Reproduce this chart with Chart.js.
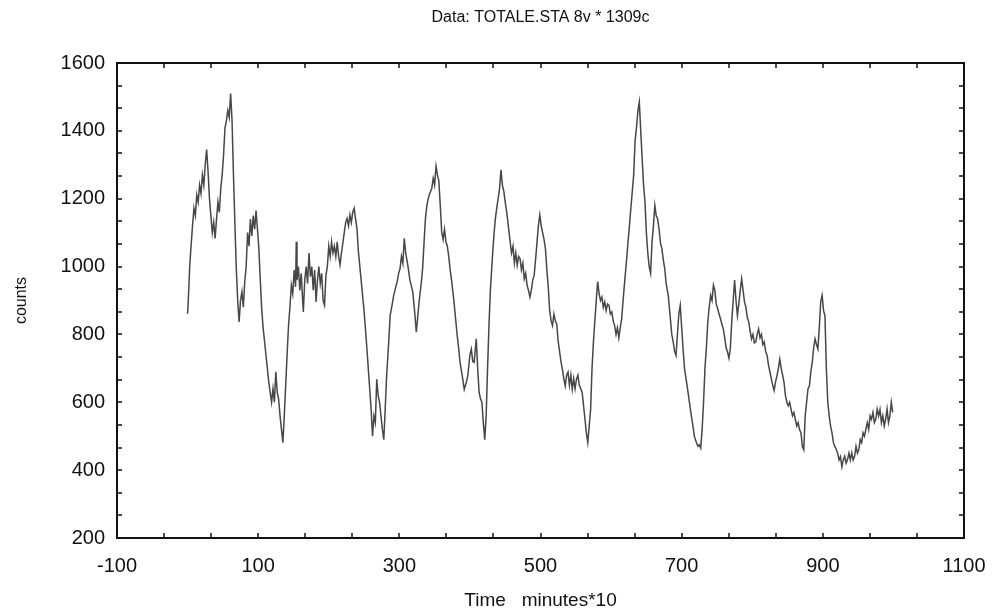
<!DOCTYPE html>
<html>
<head>
<meta charset="utf-8">
<script src="https://cdn.jsdelivr.net/npm/chart.js@4"></script>
<style>
  html, body { margin: 0; padding: 0; background: #fff; }
  #wrap { width: 996px; height: 616px; }
</style>
</head>
<body>
<div id="wrap"><canvas id="countsChart" width="996" height="616"></canvas></div>
<script>
// Time (minutes*10) and counts
const times = [
  0, 1, 3, 5, 7, 9, 11, 13, 15, 17, 19, 21, 23, 25, 27, 29, 31, 33, 35, 37, 39, 41, 43, 45, 47, 49,
  51, 53, 55, 57, 59, 61, 63, 65, 67, 69, 71, 73, 75, 77, 79, 81, 83, 85, 87, 89, 91, 93, 95, 97, 99,
  101, 103, 105, 107, 109, 111, 113, 115, 117, 119, 121, 123, 125, 127, 129, 131, 133, 135, 137, 139,
  141, 143, 145, 147, 149, 151, 153, 154, 155, 157, 159, 161, 163, 164, 166, 168, 170, 172, 174, 176,
  178, 180, 182, 184, 186, 188, 190, 192, 194, 196, 198, 200, 202, 204, 206, 208, 210, 212, 214, 216,
  218, 220, 222, 224, 226, 228, 230, 232, 234, 236, 238, 240, 242, 245, 247, 250, 252, 254, 256, 258,
  260, 262, 264, 266, 268, 270, 272, 274, 276, 278, 280, 282, 285, 287, 290, 292, 295, 297, 299, 301,
  303, 305, 307, 309, 312, 315, 319, 322, 324, 326, 328, 331, 333, 335, 337, 339, 341, 343, 346, 348,
  350, 352, 354, 356, 358, 360, 362, 364, 366, 368, 370, 372, 374, 377, 380, 382, 384, 386, 389, 392,
  395, 397, 400, 402, 404, 406, 409, 411, 413, 415, 417, 419, 421, 423, 425, 427, 429, 431, 434, 436,
  438, 440, 442, 444, 446, 448, 450, 452, 455, 457, 459, 461, 463, 465, 467, 469, 471, 473, 475, 477,
  479, 481, 483, 485, 487, 489, 491, 493, 495, 497, 499, 501, 503, 505, 507, 509, 511, 513, 515, 517,
  519, 521, 523, 525, 527, 529, 531, 533, 535, 537, 539, 541, 543, 545, 547, 549, 551, 553, 555, 557,
  559, 561, 563, 565, 567, 569, 571, 573, 575, 577, 579, 581, 583, 585, 587, 589, 591, 593, 595, 597,
  599, 601, 603, 605, 607, 609, 611, 613, 615, 617, 620, 622, 624, 626, 628, 630, 632, 634, 636, 638,
  640, 642, 644, 646, 648, 650, 652, 654, 656, 658, 660, 662, 664, 666, 668, 670, 672, 674, 676, 678,
  681, 684, 686, 688, 690, 692, 694, 696, 698, 700, 702, 704, 707, 709, 711, 713, 716, 718, 721, 723,
  725, 727, 729, 731, 733, 735, 737, 739, 741, 743, 745, 747, 749, 751, 753, 755, 757, 759, 761, 763,
  765, 767, 769, 771, 773, 775, 777, 779, 781, 783, 785, 787, 789, 791, 793, 795, 797, 799, 801, 803,
  805, 807, 809, 811, 813, 815, 817, 819, 821, 823, 825, 827, 829, 831, 833, 835, 837, 839, 841, 843,
  845, 847, 849, 851, 853, 855, 857, 859, 861, 863, 865, 867, 869, 871, 873, 875, 877, 879, 881, 883,
  885, 887, 889, 891, 893, 895, 897, 899, 901, 903, 905, 907, 909, 911, 913, 915, 917, 919, 921, 923,
  925, 927, 929, 931, 933, 935, 937, 939, 941, 943, 945, 947, 949, 951, 953, 955, 957, 959, 961, 963,
  965, 967, 969, 971, 973, 975, 977, 979, 981, 983, 985, 987, 989, 991, 993, 995, 997, 999
];
const counts = [
  861, 900, 1000, 1063, 1120, 1172, 1150, 1211, 1190, 1240, 1215, 1270, 1240, 1300, 1345, 1280, 1200, 1150, 1100, 1130, 1083, 1140, 1190, 1160, 1230, 1270,
  1330, 1409, 1430, 1460, 1440, 1510, 1430, 1270, 1130, 994, 900, 837, 900, 926, 880, 956, 1000, 1100, 1060, 1140, 1090, 1150, 1110, 1165, 1110,
  1053, 960, 876, 820, 780, 740, 700, 660, 630, 600, 640, 600, 690, 630, 609, 560, 520, 481, 560, 650,
  740, 826, 880, 945, 920, 990, 940, 1073, 960, 1000, 930, 980, 900, 866, 960, 1000, 950, 1040, 970, 1000,
  930, 990, 896, 960, 1000, 950, 980, 900, 886, 974, 1000, 1060, 1030, 1073, 1040, 1060, 1030, 1073, 1030, 1005,
  1040, 1070, 1100, 1130, 1142, 1120, 1152, 1130, 1160, 1172, 1140, 1112, 1044, 980, 935, 870, 816, 760, 700, 640,
  580, 500, 560, 540, 668, 620, 600, 560, 520, 490, 580, 678, 780, 856, 890, 915, 940, 956, 980, 994,
  1030, 1010, 1083, 1040, 1004, 960, 926, 860, 807, 850, 896, 950, 994, 1070, 1142, 1180, 1201, 1215, 1231, 1260,
  1240, 1296, 1270, 1252, 1180, 1103, 1080, 1110, 1073, 1060, 1030, 990, 960, 905, 840, 796, 760, 718, 680, 638,
  660, 678, 740, 757, 720, 718, 787, 700, 629, 610, 600, 540, 490, 560, 700, 826, 930, 1000, 1093, 1140,
  1172, 1200, 1230, 1285, 1240, 1222, 1190, 1163, 1110, 1073, 1040, 1060, 1010, 1040, 1004, 1030, 1024, 990, 1010, 964,
  980, 945, 930, 910, 930, 960, 974, 1020, 1070, 1120, 1152, 1120, 1100, 1080, 1053, 990, 940, 870, 840, 826,
  860, 840, 830, 780, 750, 720, 698, 670, 648, 680, 689, 650, 680, 638, 670, 640, 668, 680, 650, 640,
  629, 590, 550, 510, 481, 530, 579, 700, 778, 840, 900, 956, 920, 900, 910, 880, 896, 870, 890, 886,
  860, 866, 840, 826, 800, 820, 790, 820, 846, 900, 974, 1020, 1073, 1120, 1172, 1220, 1270, 1370, 1410, 1459,
  1485, 1400, 1320, 1240, 1192, 1100, 1040, 1000, 980, 1073, 1120, 1180, 1150, 1140, 1110, 1070, 1053, 1020, 994, 950,
  915, 846, 800, 778, 750, 738, 800, 860, 886, 820, 757, 700, 659, 630, 600, 570, 530, 500, 481, 470,
  475, 465, 520, 600, 700, 760, 837, 880, 915, 900, 945, 930, 890, 876, 860, 846, 830, 816, 790, 760,
  748, 730, 760, 840, 900, 960, 900, 856, 890, 930, 964, 930, 896, 880, 850, 837, 810, 787, 800, 775,
  778, 800, 816, 790, 800, 770, 778, 750, 738, 710, 690, 670, 650, 635, 660, 678, 700, 727, 700, 680,
  659, 620, 600, 590, 600, 579, 560, 570, 550, 530, 540, 520, 510, 470, 460, 560, 600, 640, 648, 690,
  718, 760, 787, 770, 757, 820, 896, 915, 870, 856, 700, 600, 560, 530, 510, 481, 470, 461, 450, 430,
  440, 410, 430, 441, 420, 431, 450, 430, 451, 430, 441, 470, 450, 461, 490, 481, 510, 500, 520, 540,
  520, 560, 550, 570, 540, 550, 580, 560, 579, 540, 560, 530, 550, 580, 540, 560, 600, 570
];

const chartTitle = 'Data: TOTALE.STA 8v * 1309c';
const xMin = -100, xMax = 1100, xStep = 200;
const yMin = 200, yMax = 1600, yStep = 200;
const minorPerMajor = 3;

const points = times.map((t, i) => ({ x: t, y: counts[i] }));

const fontFamily = "'Liberation Sans', Arial, sans-serif";

// box around the plot with inward ticks on all four sides, title centred over the plot
const frameTicks = {
    id: 'frameTicks',
    afterDraw(chart) {
        const { ctx, chartArea: a, scales: { x, y } } = chart;
        ctx.save();
        ctx.strokeStyle = '#111';
        ctx.lineWidth = 2;
        ctx.strokeRect(a.left, a.top, a.right - a.left, a.bottom - a.top);
        ctx.lineWidth = 1.5;
        ctx.beginPath();
        const xs = xStep / minorPerMajor;
        for (let v = xMin; v <= xMax + 0.01; v += xs) {
            const px = Math.round(x.getPixelForValue(v));
            ctx.moveTo(px, a.bottom); ctx.lineTo(px, a.bottom - 5);
            ctx.moveTo(px, a.top); ctx.lineTo(px, a.top + 5);
        }
        const ys = yStep / minorPerMajor;
        for (let v = yMin; v <= yMax + 0.01; v += ys) {
            const py = Math.round(y.getPixelForValue(v));
            ctx.moveTo(a.left, py); ctx.lineTo(a.left + 5, py);
            ctx.moveTo(a.right, py); ctx.lineTo(a.right - 5, py);
        }
        ctx.stroke();

        ctx.fillStyle = '#111';
        ctx.font = '16px ' + fontFamily;
        ctx.textAlign = 'center';
        ctx.textBaseline = 'middle';
        ctx.fillText(chartTitle, (a.left + a.right) / 2, 18);
        ctx.restore();
    }
};

const chart = new Chart(document.getElementById('countsChart'), {
    type: 'line',
    data: {
        datasets: [{
            data: points,
            borderColor: '#474747',
            borderWidth: 1.5,
            pointRadius: 0,
            tension: 0,
            fill: false
        }]
    },
    options: {
        responsive: false,
        animation: false,
        layout: { padding: { top: 63, right: 32, bottom: 0, left: 0 } },
        plugins: {
            legend: { display: false },
            tooltip: { enabled: false },
            title: { display: false }
        },
        scales: {
            x: {
                type: 'linear',
                min: xMin,
                max: xMax,
                grid: { display: false, drawTicks: false },
                border: { display: false },
                ticks: {
                    stepSize: xStep,
                    autoSkip: false,
                    maxRotation: 0,
                    padding: 16,
                    color: '#111',
                    font: { family: fontFamily, size: 20 },
                    callback: v => String(v)
                },
                title: {
                    display: true,
                    text: 'Time   minutes*10',
                    color: '#111',
                    font: { family: fontFamily, size: 19 },
                    padding: { top: 10, bottom: 4 }
                },
                afterFit(scale) {
                    scale.height = 78;
                    scale.paddingLeft = 0;
                    scale.paddingRight = 0;
                }
            },
            y: {
                min: yMin,
                max: yMax,
                grid: { display: false, drawTicks: false },
                border: { display: false },
                ticks: {
                    stepSize: yStep,
                    padding: 12,
                    color: '#111',
                    font: { family: fontFamily, size: 20 },
                    callback: v => String(v)
                },
                title: {
                    display: true,
                    text: 'counts',
                    color: '#111',
                    font: { family: fontFamily, size: 16 },
                    padding: { top: 12, bottom: 0 }
                },
                afterFit(scale) { scale.width = 117; }
            }
        }
    },
    plugins: [frameTicks]
});
</script>
</body>
</html>
